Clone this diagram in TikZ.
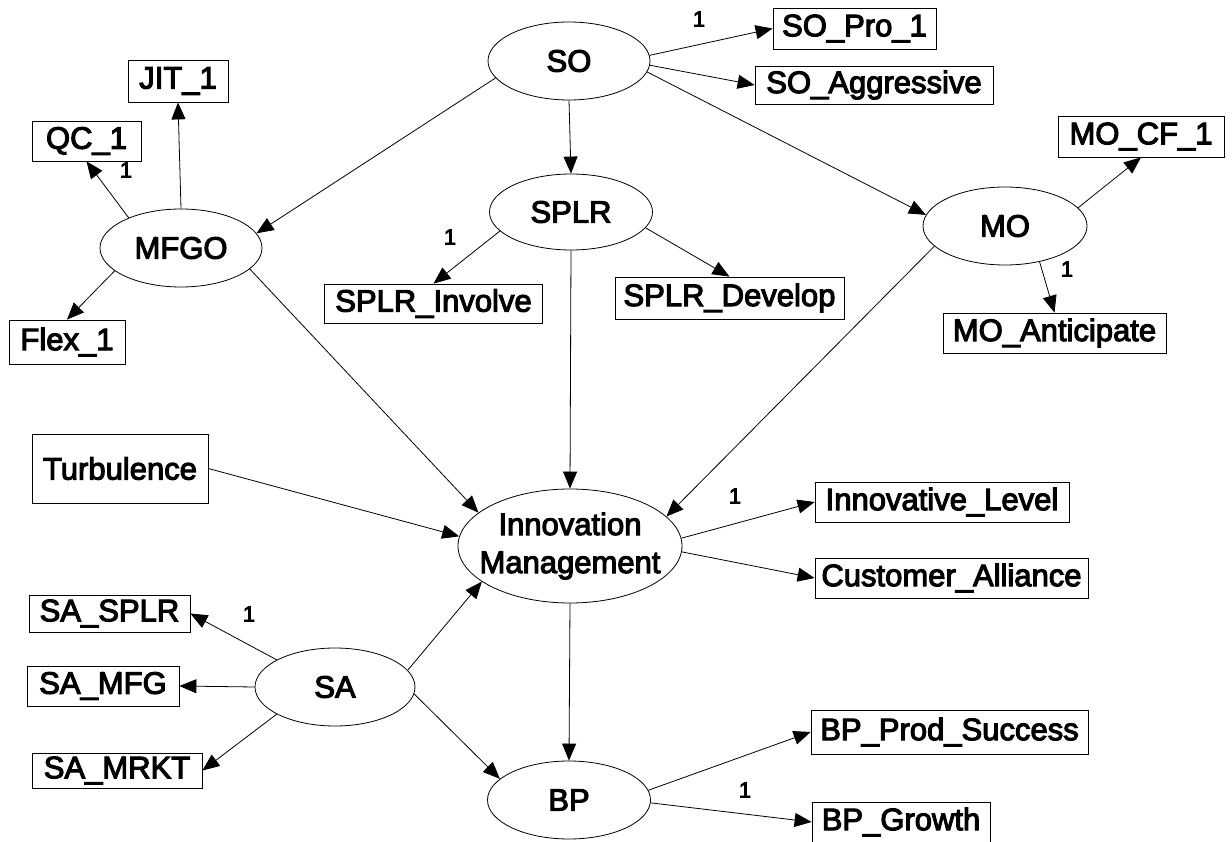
\documentclass[tikz,border=0pt]{standalone}
\usepackage{fontspec}
\usetikzlibrary{shapes.geometric,arrows.meta}
\newfontfamily\diagfont{Liberation Sans}[FakeBold=3.5]
\newcommand{\nodefont}{\diagfont\fontsize{31}{38}\selectfont}
\newcommand{\weightfont}{\diagfont\fontsize{22}{24}\selectfont}

\begin{document}
\begin{tikzpicture}[x=1pt,y=-1pt,
  latent/.style={ellipse, draw, line width=0.8pt, inner sep=0pt, font=\nodefont},
  indicator/.style={rectangle, draw, line width=0.8pt, inner xsep=2pt, inner ysep=0pt, font=\nodefont},
  link/.style={draw, line width=0.8pt, -{Triangle[length=17pt,width=14pt]}},
  weight/.style={inner sep=0pt, font=\weightfont}]
\useasboundingbox (0,0) rectangle (1232,842);

% latent constructs
\node[latent, minimum width=162, minimum height=78] (SO)   at (569,61)  {SO};
\node[latent, minimum width=162, minimum height=78] (MFGO) at (181,248) {MFGO};
\node[latent, minimum width=163, minimum height=76] (SPLR) at (571,212) {SPLR};
\node[latent, minimum width=164, minimum height=78] (MO)   at (1005,226) {MO};
\node[latent, minimum width=224, minimum height=114] (IM)  at (570,546) {};
\node[font=\nodefont, align=center, inner sep=0pt] (IMtext) at (IM) {Innovation\\Management};
\node[latent, minimum width=160, minimum height=78] (SA)   at (335,687) {SA};
\node[latent, minimum width=163, minimum height=78] (BP)   at (569,800) {BP};

% observed indicators
\node[indicator, minimum width=100, minimum height=42] (JIT_1) at (178,81) {JIT\_1};
\node[indicator, minimum width=109, minimum height=40] (QC_1) at (86.5,141) {QC\_1};
\node[indicator, minimum width=116, minimum height=44] (Flex_1) at (67,342) {Flex\_1};
\node[indicator, minimum width=218, minimum height=39] (SPLR_Involve) at (433.5,303.5) {SPLR\_Involve};
\node[indicator, minimum width=229, minimum height=42] (SPLR_Develop) at (729.5,298) {SPLR\_Develop};
\node[indicator, minimum width=163, minimum height=41] (SO_Pro_1) at (854.5,28.5) {SO\_Pro\_1};
\node[indicator, minimum width=238, minimum height=38] (SO_Aggressive) at (874,85) {SO\_Aggressive};
\node[indicator, minimum width=166, minimum height=41] (MO_CF_1) at (1141,136.5) {MO\_CF\_1};
\node[indicator, minimum width=223, minimum height=40] (MO_Anticipate) at (1054.5,333) {MO\_Anticipate};
\node[indicator, minimum width=176, minimum height=69] (Turbulence) at (120,468.5) {Turbulence};
\node[indicator, minimum width=161, minimum height=37] (SA_SPLR) at (109.5,613.5) {SA\_SPLR};
\node[indicator, minimum width=152, minimum height=40] (SA_MFG) at (103,686) {SA\_MFG};
\node[indicator, minimum width=170, minimum height=35] (SA_MRKT) at (117,770.5) {SA\_MRKT};
\node[indicator, minimum width=254, minimum height=40] (Innovative_Level) at (942,502) {Innovative\_Level};
\node[indicator, minimum width=273, minimum height=40] (Customer_Alliance) at (951.5,578) {Customer\_Alliance};
\node[indicator, minimum width=277, minimum height=44] (BP_Prod_Success) at (949.5,732) {BP\_Prod\_Success};
\node[indicator, minimum width=178, minimum height=40] (BP_Growth) at (901,822) {BP\_Growth};

% paths
\draw[link] (SO.4) -- (SO_Pro_1.west);
\draw[link] (SO.-3) -- (SO_Aggressive.west);
\draw[link] (SO.-8.6) -- (MO.172);
\draw[link] (SO.south) -- (SPLR.north);
\draw[link] (SO.193) -- (MFGO.11);
\draw[link] (MFGO.north) -- (JIT_1.south);
\draw[link] (MFGO.150) -- (QC_1.south);
\draw[link] (MFGO.199) -- (Flex_1.north);
\draw[link] (MFGO.-17) -- (IM.160.5);
\draw[link] (SPLR.195.6) -- (SPLR_Involve.north);
\draw[link] (SPLR.-12) -- (SPLR_Develop.north);
\draw[link] (SPLR.south) -- (IM.north);
\draw[link] (MO.14.6) -- (MO_CF_1.south);
\draw[link] (MO.-46) -- (MO_Anticipate.north);
\draw[link] (MO.196) -- (IM.17.6);
\draw[link] (Turbulence.east) -- (IM.175);
\draw[link] (IM.4.6) -- (Innovative_Level.west);
\draw[link] (IM.-3) -- (Customer_Alliance.west);
\draw[link] (IM.south) -- (BP.north);
\draw[link] (SA.155) -- (SA_SPLR.east);
\draw[link] (SA.west) -- (SA_MFG.east);
\draw[link] (SA.205) -- (SA_MRKT.east);
\draw[link] (SA.13) -- (IM.202);
\draw[link] (SA.-5) -- (BP.163);
\draw[link] (BP.7) -- (BP_Prod_Success.west);
\draw[link] (BP.-2) -- (BP_Growth.west);

% fixed loadings
\node[weight] (w1) at (699,19) {1};
\node[weight] (w2) at (126,170) {1};
\node[weight] (w3) at (450,237) {1};
\node[weight] (w4) at (1067,269) {1};
\node[weight] (w5) at (735,496) {1};
\node[weight] (w6) at (249,614) {1};
\node[weight] (w7) at (745,790) {1};
\end{tikzpicture}
\end{document}
